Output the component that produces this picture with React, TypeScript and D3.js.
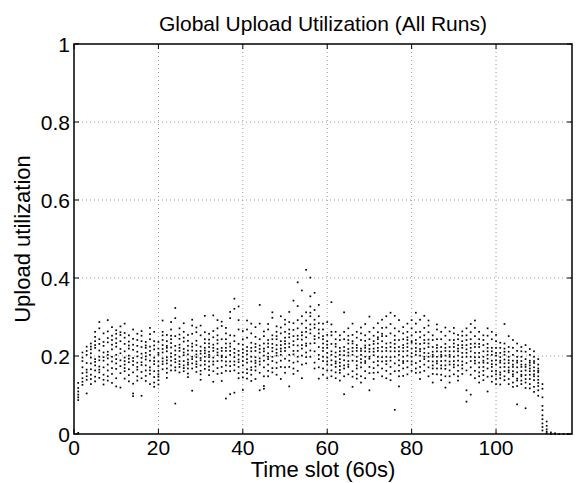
import { useRef, useEffect } from 'react';
import * as d3 from 'd3';

// Upload utilization per time slot (index = slot), one value per run
const slotValues: number[][] = [
  [],
  [0.131, 0.118, 0.109, 0.101, 0.094, 0.087, 0.003],
  [0.209, 0.187, 0.171, 0.156, 0.143, 0.134, 0.126, 0.196],
  [0.224, 0.203, 0.182, 0.165, 0.148, 0.139, 0.104, 0.213, 0.158],
  [0.232, 0.217, 0.196, 0.181, 0.166, 0.152, 0.141, 0.128, 0.207, 0.224],
  [0.262, 0.238, 0.221, 0.192, 0.176, 0.163, 0.147, 0.135, 0.249, 0.185, 0.228],
  [0.287, 0.271, 0.243, 0.214, 0.198, 0.173, 0.158, 0.144, 0.231, 0.189, 0.165],
  [0.258, 0.226, 0.209, 0.188, 0.171, 0.152, 0.139, 0.127, 0.197, 0.236],
  [0.292, 0.263, 0.235, 0.211, 0.194, 0.178, 0.163, 0.148, 0.246, 0.137, 0.203],
  [0.274, 0.252, 0.229, 0.217, 0.186, 0.169, 0.154, 0.131, 0.241, 0.198],
  [0.266, 0.245, 0.224, 0.203, 0.181, 0.167, 0.143, 0.122, 0.257, 0.192, 0.233],
  [0.276, 0.254, 0.238, 0.207, 0.189, 0.174, 0.156, 0.119, 0.218, 0.261],
  [0.283, 0.259, 0.231, 0.212, 0.196, 0.178, 0.161, 0.142, 0.247, 0.187, 0.169],
  [0.253, 0.237, 0.219, 0.201, 0.184, 0.166, 0.151, 0.135, 0.193, 0.227],
  [0.268, 0.244, 0.216, 0.195, 0.177, 0.158, 0.129, 0.097, 0.104, 0.229, 0.187],
  [0.257, 0.241, 0.226, 0.199, 0.183, 0.165, 0.148, 0.137, 0.211, 0.172],
  [0.264, 0.252, 0.223, 0.206, 0.184, 0.159, 0.143, 0.098, 0.177, 0.238, 0.195],
  [0.236, 0.221, 0.208, 0.191, 0.176, 0.163, 0.149, 0.136, 0.199, 0.227],
  [0.272, 0.243, 0.224, 0.203, 0.188, 0.171, 0.154, 0.128, 0.213, 0.256, 0.163],
  [0.262, 0.238, 0.217, 0.196, 0.179, 0.161, 0.146, 0.132, 0.187, 0.121, 0.227],
  [0.236, 0.219, 0.203, 0.186, 0.174, 0.162, 0.153, 0.138, 0.147, 0.208, 0.127],
  [0.291, 0.253, 0.241, 0.228, 0.209, 0.194, 0.179, 0.166, 0.218, 0.186, 0.262],
  [0.254, 0.238, 0.226, 0.212, 0.197, 0.181, 0.168, 0.157, 0.189, 0.221, 0.144],
  [0.287, 0.268, 0.243, 0.222, 0.207, 0.188, 0.176, 0.163, 0.198, 0.233, 0.252],
  [0.323, 0.297, 0.251, 0.226, 0.203, 0.184, 0.163, 0.078, 0.214, 0.192, 0.171],
  [0.271, 0.244, 0.229, 0.213, 0.198, 0.179, 0.172, 0.158, 0.221, 0.187, 0.255],
  [0.284, 0.262, 0.237, 0.218, 0.202, 0.187, 0.176, 0.161, 0.209, 0.169, 0.247],
  [0.254, 0.239, 0.226, 0.204, 0.191, 0.178, 0.168, 0.155, 0.214, 0.183, 0.146],
  [0.293, 0.278, 0.257, 0.232, 0.214, 0.198, 0.181, 0.111, 0.192, 0.224, 0.168],
  [0.273, 0.261, 0.239, 0.213, 0.197, 0.186, 0.172, 0.159, 0.179, 0.228, 0.204],
  [0.278, 0.253, 0.224, 0.206, 0.189, 0.176, 0.162, 0.139, 0.213, 0.153, 0.195],
  [0.303, 0.261, 0.233, 0.214, 0.198, 0.187, 0.178, 0.167, 0.221, 0.243, 0.207],
  [0.257, 0.242, 0.223, 0.211, 0.197, 0.186, 0.173, 0.151, 0.232, 0.203, 0.164],
  [0.304, 0.264, 0.248, 0.229, 0.213, 0.196, 0.178, 0.161, 0.221, 0.134, 0.186],
  [0.292, 0.271, 0.253, 0.232, 0.218, 0.202, 0.187, 0.169, 0.241, 0.209, 0.154],
  [0.288, 0.277, 0.243, 0.221, 0.201, 0.188, 0.172, 0.136, 0.213, 0.156, 0.197],
  [0.272, 0.258, 0.232, 0.213, 0.197, 0.186, 0.176, 0.091, 0.221, 0.243, 0.162],
  [0.313, 0.297, 0.253, 0.224, 0.203, 0.186, 0.161, 0.102, 0.213, 0.232, 0.174],
  [0.347, 0.321, 0.252, 0.238, 0.218, 0.197, 0.186, 0.106, 0.208, 0.177, 0.163],
  [0.327, 0.292, 0.268, 0.231, 0.203, 0.191, 0.172, 0.143, 0.213, 0.184, 0.156],
  [0.264, 0.243, 0.229, 0.217, 0.198, 0.187, 0.176, 0.158, 0.113, 0.208, 0.145],
  [0.291, 0.268, 0.247, 0.223, 0.204, 0.183, 0.166, 0.142, 0.213, 0.192, 0.156],
  [0.283, 0.258, 0.234, 0.212, 0.198, 0.186, 0.171, 0.152, 0.221, 0.136, 0.164],
  [0.274, 0.249, 0.231, 0.213, 0.197, 0.182, 0.163, 0.141, 0.188, 0.223, 0.173],
  [0.331, 0.283, 0.243, 0.227, 0.209, 0.194, 0.178, 0.112, 0.218, 0.186, 0.157],
  [0.263, 0.251, 0.232, 0.219, 0.201, 0.188, 0.171, 0.123, 0.212, 0.116, 0.148],
  [0.282, 0.268, 0.241, 0.223, 0.207, 0.192, 0.178, 0.162, 0.198, 0.232, 0.148],
  [0.312, 0.298, 0.253, 0.231, 0.212, 0.198, 0.187, 0.169, 0.221, 0.243, 0.158],
  [0.276, 0.262, 0.243, 0.228, 0.217, 0.201, 0.183, 0.152, 0.208, 0.251, 0.169],
  [0.302, 0.273, 0.258, 0.238, 0.219, 0.203, 0.188, 0.141, 0.228, 0.212, 0.172],
  [0.293, 0.281, 0.262, 0.247, 0.231, 0.213, 0.193, 0.171, 0.221, 0.238, 0.157],
  [0.313, 0.287, 0.268, 0.248, 0.223, 0.203, 0.188, 0.122, 0.257, 0.232, 0.172],
  [0.342, 0.284, 0.267, 0.251, 0.228, 0.204, 0.183, 0.168, 0.238, 0.213, 0.154],
  [0.389, 0.328, 0.292, 0.271, 0.243, 0.213, 0.198, 0.162, 0.252, 0.186, 0.227],
  [0.368, 0.302, 0.283, 0.261, 0.242, 0.219, 0.201, 0.143, 0.253, 0.228, 0.178],
  [0.421, 0.312, 0.291, 0.272, 0.248, 0.232, 0.209, 0.181, 0.262, 0.197, 0.226],
  [0.401, 0.353, 0.327, 0.302, 0.281, 0.258, 0.232, 0.198, 0.268, 0.311, 0.214],
  [0.362, 0.318, 0.293, 0.272, 0.251, 0.233, 0.212, 0.183, 0.281, 0.243, 0.168],
  [0.331, 0.302, 0.284, 0.268, 0.247, 0.223, 0.203, 0.142, 0.258, 0.192, 0.171],
  [0.283, 0.268, 0.251, 0.232, 0.213, 0.198, 0.187, 0.152, 0.221, 0.243, 0.168],
  [0.287, 0.254, 0.238, 0.221, 0.208, 0.196, 0.186, 0.163, 0.229, 0.178, 0.143],
  [0.338, 0.281, 0.253, 0.231, 0.203, 0.189, 0.177, 0.148, 0.212, 0.262, 0.163],
  [0.262, 0.243, 0.224, 0.209, 0.198, 0.186, 0.172, 0.158, 0.181, 0.231, 0.143],
  [0.253, 0.241, 0.221, 0.203, 0.192, 0.183, 0.174, 0.164, 0.212, 0.137, 0.157],
  [0.312, 0.262, 0.243, 0.223, 0.202, 0.189, 0.176, 0.102, 0.213, 0.168, 0.148],
  [0.271, 0.252, 0.232, 0.218, 0.201, 0.187, 0.172, 0.153, 0.209, 0.178, 0.241],
  [0.283, 0.254, 0.238, 0.221, 0.203, 0.188, 0.161, 0.121, 0.212, 0.232, 0.147],
  [0.262, 0.247, 0.228, 0.213, 0.198, 0.187, 0.176, 0.142, 0.221, 0.168, 0.153],
  [0.273, 0.258, 0.241, 0.219, 0.203, 0.183, 0.171, 0.148, 0.213, 0.192, 0.132],
  [0.282, 0.253, 0.239, 0.227, 0.212, 0.198, 0.182, 0.161, 0.221, 0.187, 0.143],
  [0.301, 0.262, 0.243, 0.228, 0.211, 0.193, 0.172, 0.112, 0.218, 0.198, 0.156],
  [0.272, 0.252, 0.238, 0.219, 0.202, 0.184, 0.169, 0.157, 0.211, 0.231, 0.141],
  [0.284, 0.261, 0.248, 0.232, 0.213, 0.198, 0.187, 0.176, 0.221, 0.243, 0.158],
  [0.293, 0.272, 0.257, 0.238, 0.212, 0.197, 0.186, 0.168, 0.223, 0.251, 0.148],
  [0.302, 0.273, 0.251, 0.232, 0.213, 0.198, 0.179, 0.143, 0.221, 0.187, 0.162],
  [0.311, 0.282, 0.258, 0.234, 0.212, 0.197, 0.172, 0.154, 0.223, 0.188, 0.138],
  [0.303, 0.271, 0.252, 0.231, 0.212, 0.198, 0.181, 0.062, 0.221, 0.241, 0.161],
  [0.292, 0.263, 0.241, 0.223, 0.203, 0.189, 0.162, 0.148, 0.212, 0.122, 0.176],
  [0.274, 0.258, 0.243, 0.228, 0.212, 0.198, 0.182, 0.168, 0.221, 0.187, 0.149],
  [0.283, 0.262, 0.248, 0.232, 0.213, 0.201, 0.187, 0.171, 0.223, 0.241, 0.153],
  [0.292, 0.271, 0.253, 0.234, 0.219, 0.207, 0.198, 0.186, 0.238, 0.178, 0.162],
  [0.311, 0.283, 0.261, 0.241, 0.221, 0.203, 0.182, 0.157, 0.232, 0.212, 0.168],
  [0.293, 0.262, 0.248, 0.231, 0.218, 0.201, 0.187, 0.158, 0.212, 0.172, 0.141],
  [0.303, 0.272, 0.253, 0.233, 0.219, 0.208, 0.192, 0.178, 0.241, 0.198, 0.162],
  [0.291, 0.278, 0.261, 0.242, 0.223, 0.207, 0.198, 0.171, 0.232, 0.187, 0.148],
  [0.253, 0.241, 0.223, 0.211, 0.198, 0.186, 0.176, 0.132, 0.203, 0.168, 0.154],
  [0.281, 0.268, 0.243, 0.228, 0.212, 0.198, 0.181, 0.168, 0.221, 0.187, 0.153],
  [0.262, 0.243, 0.223, 0.211, 0.198, 0.187, 0.176, 0.138, 0.168, 0.203, 0.152],
  [0.273, 0.252, 0.231, 0.213, 0.201, 0.188, 0.176, 0.119, 0.221, 0.167, 0.148],
  [0.263, 0.241, 0.223, 0.212, 0.198, 0.186, 0.163, 0.148, 0.178, 0.203, 0.132],
  [0.272, 0.258, 0.241, 0.223, 0.212, 0.198, 0.187, 0.171, 0.232, 0.178, 0.153],
  [0.254, 0.243, 0.228, 0.212, 0.201, 0.188, 0.162, 0.148, 0.219, 0.176, 0.137],
  [0.263, 0.252, 0.238, 0.221, 0.208, 0.197, 0.186, 0.168, 0.228, 0.177, 0.154],
  [0.271, 0.253, 0.241, 0.228, 0.217, 0.198, 0.182, 0.112, 0.208, 0.083, 0.163],
  [0.282, 0.261, 0.243, 0.231, 0.212, 0.198, 0.187, 0.171, 0.221, 0.101, 0.152],
  [0.291, 0.272, 0.251, 0.223, 0.208, 0.197, 0.181, 0.162, 0.232, 0.188, 0.143],
  [0.262, 0.243, 0.223, 0.208, 0.197, 0.183, 0.171, 0.158, 0.148, 0.231, 0.132],
  [0.253, 0.241, 0.228, 0.212, 0.198, 0.183, 0.162, 0.151, 0.188, 0.172, 0.138],
  [0.271, 0.252, 0.231, 0.212, 0.193, 0.182, 0.168, 0.109, 0.203, 0.221, 0.147],
  [0.262, 0.243, 0.221, 0.203, 0.188, 0.172, 0.161, 0.148, 0.212, 0.179, 0.134],
  [0.254, 0.238, 0.221, 0.201, 0.189, 0.178, 0.162, 0.141, 0.208, 0.128, 0.153],
  [0.234, 0.221, 0.208, 0.197, 0.183, 0.171, 0.158, 0.143, 0.188, 0.152, 0.127],
  [0.282, 0.232, 0.219, 0.203, 0.191, 0.172, 0.161, 0.148, 0.138, 0.211, 0.181],
  [0.251, 0.223, 0.211, 0.198, 0.182, 0.171, 0.158, 0.141, 0.189, 0.128, 0.163],
  [0.241, 0.221, 0.203, 0.188, 0.172, 0.161, 0.148, 0.132, 0.121, 0.178, 0.153],
  [0.232, 0.213, 0.198, 0.183, 0.171, 0.158, 0.142, 0.123, 0.076, 0.188, 0.137],
  [0.223, 0.212, 0.198, 0.187, 0.172, 0.161, 0.148, 0.137, 0.128, 0.178, 0.152],
  [0.228, 0.211, 0.192, 0.178, 0.163, 0.151, 0.141, 0.132, 0.118, 0.066, 0.172],
  [0.218, 0.203, 0.188, 0.176, 0.168, 0.152, 0.141, 0.128, 0.161, 0.117, 0.183],
  [0.212, 0.198, 0.182, 0.171, 0.162, 0.148, 0.138, 0.121, 0.108, 0.187, 0.153],
  [0.192, 0.178, 0.168, 0.158, 0.148, 0.139, 0.123, 0.112, 0.098, 0.131, 0.162],
  [0.128, 0.116, 0.094, 0.072, 0.061, 0.048, 0.038, 0.027, 0.018, 0.009],
  [0.032, 0.021, 0.012, 0.006, 0.002],
  [0.004, 0.0],
  [0.0, 0.002],
  [0.0],
  [0.0],
  [0.0],
];

const xTicks = [0, 20, 40, 60, 80, 100];
const yTicks = [0, 0.2, 0.4, 0.6, 0.8, 1];
const xMax = 118;

const font = "'Liberation Sans', Arial, Helvetica, sans-serif";

export default function App() {
  const svgRef = useRef<SVGSVGElement>(null);
  const width = 576;
  const height = 483;

  useEffect(() => {
    const svg = d3.select(svgRef.current);
    svg.selectAll('*').remove();

    const margin = { top: 44, right: 4, bottom: 49, left: 74 };
    const plotW = width - margin.left - margin.right;
    const plotH = height - margin.top - margin.bottom;

    const x = d3.scaleLinear().domain([0, xMax]).range([0, plotW]);
    const y = d3.scaleLinear().domain([0, 1]).range([plotH, 0]);

    svg.append('rect').attr('width', width).attr('height', height).attr('fill', '#fff');

    const g = svg.append('g').attr('transform', `translate(${margin.left},${margin.top})`);

    // dotted grid
    g.selectAll('.gx')
      .data(xTicks.filter((t) => t > 0))
      .join('line')
      .attr('x1', (d) => x(d))
      .attr('x2', (d) => x(d))
      .attr('y1', 0)
      .attr('y2', plotH)
      .attr('stroke', '#999')
      .attr('stroke-width', 1)
      .attr('stroke-dasharray', '1,3');

    g.selectAll('.gy')
      .data(yTicks.filter((t) => t > 0 && t < 1))
      .join('line')
      .attr('x1', 0)
      .attr('x2', plotW)
      .attr('y1', (d) => y(d))
      .attr('y2', (d) => y(d))
      .attr('stroke', '#999')
      .attr('stroke-width', 1)
      .attr('stroke-dasharray', '1,3');

    // points
    const dot = 1.7;
    const points = slotValues.flatMap((vals, slot) => vals.map((v) => ({ slot, v })));
    g.selectAll('.pt')
      .data(points)
      .join('rect')
      .attr('x', (d) => x(d.slot) - dot / 2)
      .attr('y', (d) => y(d.v) - dot / 2)
      .attr('width', dot)
      .attr('height', dot)
      .attr('fill', '#000');

    // ticks (inside)
    const tickLen = 5;
    g.selectAll('.tx')
      .data(xTicks)
      .join('g')
      .each(function (d) {
        const t = d3.select(this);
        t.append('line').attr('x1', x(d)).attr('x2', x(d)).attr('y1', plotH).attr('y2', plotH - tickLen).attr('stroke', '#000');
        t.append('line').attr('x1', x(d)).attr('x2', x(d)).attr('y1', 0).attr('y2', tickLen).attr('stroke', '#000');
      });
    g.selectAll('.ty')
      .data(yTicks)
      .join('g')
      .each(function (d) {
        const t = d3.select(this);
        t.append('line').attr('x1', 0).attr('x2', tickLen).attr('y1', y(d)).attr('y2', y(d)).attr('stroke', '#000');
        t.append('line').attr('x1', plotW).attr('x2', plotW - tickLen).attr('y1', y(d)).attr('y2', y(d)).attr('stroke', '#000');
      });

    // box
    g.append('rect')
      .attr('x', 0)
      .attr('y', 0)
      .attr('width', plotW)
      .attr('height', plotH)
      .attr('fill', 'none')
      .attr('stroke', '#000')
      .attr('stroke-width', 1.5);

    // tick labels
    g.selectAll('.xl')
      .data(xTicks)
      .join('text')
      .attr('x', (d) => x(d))
      .attr('y', plotH + 21)
      .attr('text-anchor', 'middle')
      .attr('font-family', font)
      .attr('font-size', 21)
      .text((d) => String(d));

    g.selectAll('.yl')
      .data(yTicks)
      .join('text')
      .attr('x', -4)
      .attr('y', (d) => y(d) + 8)
      .attr('text-anchor', 'end')
      .attr('font-family', font)
      .attr('font-size', 21)
      .text((d) => String(d));

    // labels
    g.append('text')
      .attr('x', plotW / 2)
      .attr('y', plotH + 43)
      .attr('text-anchor', 'middle')
      .attr('font-family', font)
      .attr('font-size', 22)
      .text('Time slot (60s)');

    g.append('text')
      .attr('transform', `translate(${30 - margin.left},${plotH / 2}) rotate(-90)`)
      .attr('text-anchor', 'middle')
      .attr('font-family', font)
      .attr('font-size', 22)
      .text('Upload utilization');

    g.append('text')
      .attr('x', plotW / 2)
      .attr('y', 31 - margin.top)
      .attr('text-anchor', 'middle')
      .attr('font-family', font)
      .attr('font-size', 21)
      .text('Global Upload Utilization (All Runs)');
  }, []);

  return (
    <svg
      ref={svgRef}
      width={width}
      height={height}
      viewBox={`0 0 ${width} ${height}`}
      style={{ position: 'absolute', left: 0, top: 0, display: 'block' }}
    />
  );
}
